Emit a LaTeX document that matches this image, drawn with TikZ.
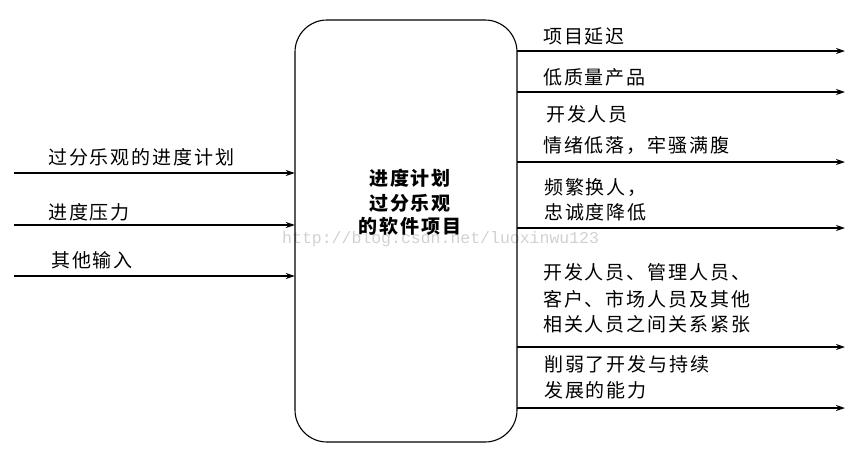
\documentclass[tikz,border=0pt]{standalone}
\usepackage{fontspec}
\newfontfamily\cjk{Noto Sans CJK SC}[LetterSpace=10]
\newfontfamily\wmfont{Liberation Mono}
\usetikzlibrary{arrows.meta}
\tikzset{
  lbl/.style={anchor=west, inner sep=0pt, font=\cjk\fontsize{19}{22}\selectfont},
  ctr/.style={inner sep=0pt, font=\cjk\bfseries\fontsize{19}{22}\selectfont},
  arr/.style={line width=1.4pt, -{Stealth[length=9pt,width=6pt]}},
  boxstyle/.style={draw, line width=1.1pt, rounded corners=32pt}
}
\begin{document}
\begin{tikzpicture}[x=1pt,y=-1pt]
\useasboundingbox (0,0) rectangle (868,451);
% watermark
\node[anchor=west, inner sep=0pt, text=black!18, font=\wmfont\fontsize{16.5}{18}\selectfont] (wm) at (282,239) {http://blog.csdn.net/luoxinwu123};
% main box
\draw[boxstyle] (295,20) rectangle (517,442);
\node[minimum width=222pt, minimum height=422pt, inner sep=0pt] (box) at (406,231) {};
\node[ctr] (c1) at (410,178) {进度计划};
\node[ctr] (c2) at (410,203) {过分乐观};
\node[ctr] (c3) at (410,226) {的软件项目};
% inputs
\coordinate (s1) at (14,173);
\coordinate (s2) at (14,225);
\coordinate (s3) at (14,276);
\draw[arr] (s1) -- (s1 -| box.west);
\draw[arr] (s2) -- (s2 -| box.west);
\draw[arr] (s3) -- (s3 -| box.west);
\node[lbl] (l1) at (48,157) {过分乐观的进度计划};
\node[lbl] (l2) at (48,212) {进度压力};
\node[lbl] (l3) at (51,260) {其他输入};
% outputs
\coordinate (e1) at (845,51);
\coordinate (e2) at (845,92);
\coordinate (e3) at (845,162);
\coordinate (e4) at (845,228);
\coordinate (e5) at (845,347);
\coordinate (e6) at (845,408);
\draw[arr] (e1 -| box.east) -- (e1);
\draw[arr] (e2 -| box.east) -- (e2);
\draw[arr] (e3 -| box.east) -- (e3);
\draw[arr] (e4 -| box.east) -- (e4);
\draw[arr] (e5 -| box.east) -- (e5);
\draw[arr] (e6 -| box.east) -- (e6);
\node[lbl] (r1) at (543,36) {项目延迟};
\node[lbl] (r2) at (543,77) {低质量产品};
\node[lbl] (r3a) at (546,114) {开发人员};
\node[lbl] (r3b) at (543,146) {情绪低落，牢骚满腹};
\node[lbl] (r4a) at (544,187) {频繁换人，};
\node[lbl] (r4b) at (544,212) {忠诚度降低};
\node[lbl] (r5a) at (543,272) {开发人员、管理人员、};
\node[lbl] (r5b) at (543,299) {客户、市场人员及其他};
\node[lbl] (r5c) at (543,324) {相关人员之间关系紧张};
\node[lbl] (r6a) at (544,364) {削弱了开发与持续};
\node[lbl] (r6b) at (544,390) {发展的能力};
\end{tikzpicture}
\end{document}
